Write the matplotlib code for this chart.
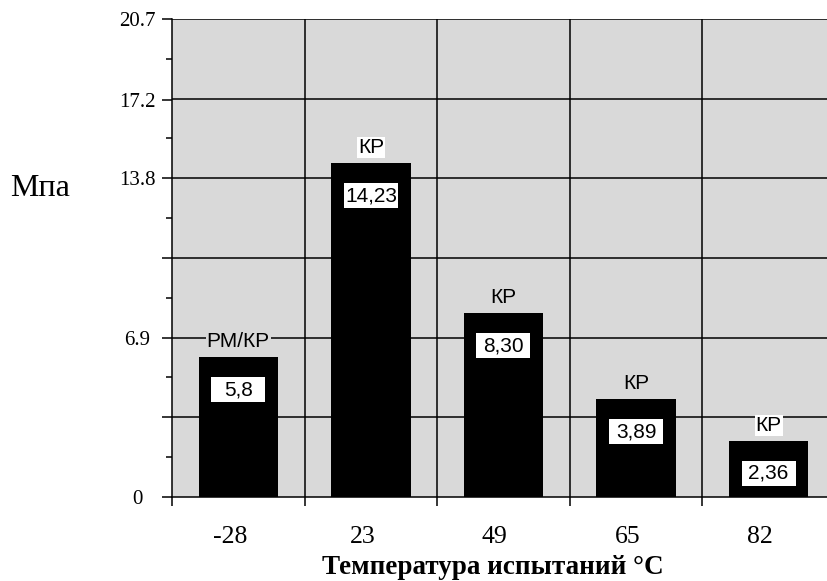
import numpy as np
import matplotlib
matplotlib.use('Agg')
import matplotlib.pyplot as plt
from matplotlib.patches import Rectangle

temps = ['-28', '23', '49', '65', '82']
bar_heights = [6.06, 14.46, 7.96, 4.24, 2.44]
value_labels = ['5,8', '14,23', '8,30', '3,89', '2,36']
mode_labels = ['РМ/КР', 'КР', 'КР', 'КР', 'КР']
ytick_vals = [0, 6.9, 13.8, 17.2, 20.7]
grid_vals = [3.45, 6.9, 10.35, 13.8, 17.25, 20.7]
minor_vals = [1.725, 5.175, 8.625, 12.075, 15.525, 18.975]

serif = ['Liberation Serif', 'DejaVu Serif']
sans = ['Liberation Sans', 'DejaVu Sans']
gray = '#d9d9d9'
mode_bg = [gray, 'white', gray, gray, 'white']

fig = plt.figure(figsize=(8.27, 5.81), dpi=100)
ax = fig.add_axes([0.208, 0.1446, 0.792, 0.8227])
ax.set_facecolor(gray)

ind = np.arange(len(temps)) + 0.5
ax.set_xlim(0, 4.94)
ax.set_ylim(0, 20.7)

# pixel -> data scale
ax_w = 0.792 * 827
ax_h = 0.8227 * 581
px_x = 4.94 / ax_w
px_y = 20.7 / ax_h

for g in grid_vals:
    ax.axhline(g, color='black', lw=1.1, zorder=1)
for xv in range(1, len(temps)):
    ax.axvline(xv, color='black', lw=1.1, zorder=1)

rects = ax.bar(ind, bar_heights, 0.6, color='black', zorder=2)

for rect, val, mode, bg in zip(rects, value_labels, mode_labels, mode_bg):
    x = rect.get_x() + rect.get_width() / 2
    h = rect.get_height()
    ax.text(x, h + 15.5 * px_y, mode, ha='center', va='center', fontsize=15,
            family=sans, zorder=4,
            bbox=dict(boxstyle='square,pad=0.05', fc=bg, ec='none'))
    bw = 54 * px_x
    ax.add_patch(Rectangle((x - bw / 2, h - 45 * px_y), bw, 25 * px_y,
                           fc='white', ec='none', zorder=3))
    ax.text(x, h - 32.5 * px_y, val, ha='center', va='center', fontsize=15,
            family=sans, zorder=4)

ax.set_yticks(ytick_vals + [3.45, 10.35])
ax.set_yticklabels(['0', '6.9', '13.8', '17.2', '20.7', '', ''], family=serif,
                   fontsize=15, ha='center')
ax.set_yticks(minor_vals, minor=True)
ax.tick_params(axis='y', which='major', length=7.2, width=1.1, direction='out', pad=17.6)
ax.tick_params(axis='y', which='minor', length=4.3, width=1.1, direction='out')

ax.set_xticks(range(len(temps)))
ax.set_xticklabels([''] * len(temps))
ax.tick_params(axis='x', length=6.5, width=1.1, direction='out')
for x, t in zip(ind, temps):
    ax.text(x - 0.065, -40 * px_y, t, ha='center', va='center', family=serif, fontsize=18.5)

ax.spines['right'].set_visible(False)
ax.spines['top'].set_visible(False)
ax.spines['left'].set_linewidth(1.1)
ax.spines['bottom'].set_linewidth(1.1)

fig.text(0.596, 0.024, 'Температура испытаний °C', ha='center', va='center',
         family=serif, fontsize=19.5, fontweight='bold')
fig.text(0.048, 0.676, 'Мпа', ha='center', va='center', family=serif, fontsize=23)

plt.savefig('out.png', dpi=100)
